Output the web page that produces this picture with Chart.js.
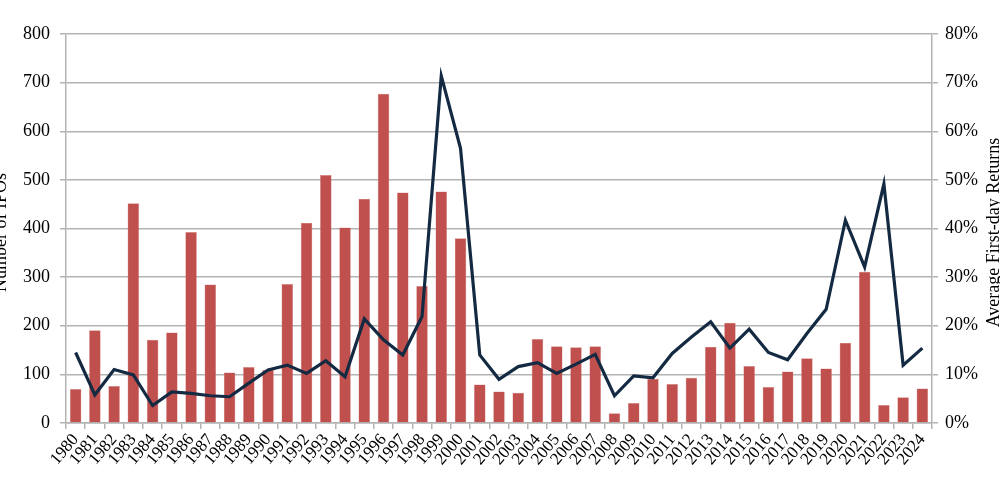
<!DOCTYPE html>
<html>
<head>
<meta charset="utf-8">
<script src="https://cdn.jsdelivr.net/npm/chart.js@4"></script>
<style>
  html, body { margin: 0; padding: 0; background: #fff; }
  #box { width: 1000px; height: 484px; }
</style>
</head>
<body>
<div id="box"><canvas id="ipoChart"></canvas></div>
<script>
// ************** IPO count (bars) and average first-day return (line) *******************
const years = ["1980", "1981", "1982", "1983", "1984", "1985", "1986", "1987", "1988", "1989",
  "1990", "1991", "1992", "1993", "1994", "1995", "1996", "1997", "1998", "1999",
  "2000", "2001", "2002", "2003", "2004", "2005", "2006", "2007", "2008", "2009",
  "2010", "2011", "2012", "2013", "2014", "2015", "2016", "2017", "2018", "2019",
  "2020", "2021", "2022", "2023", "2024"];

const ipoCounts = [70, 191, 76, 452, 171, 186, 393, 285, 104, 115,
  109, 286, 412, 510, 402, 461, 677, 474, 282, 476,
  380, 79, 65, 62, 173, 158, 156, 158, 20, 41,
  91, 80, 93, 157, 206, 117, 74, 106, 133, 112,
  165, 311, 37, 53, 71];

const firstDayReturns = [14.5, 5.8, 11.0, 9.9, 3.6, 6.4, 6.1, 5.6, 5.4, 8.2,
  10.9, 11.9, 10.2, 12.8, 9.5, 21.4, 17.1, 14.0, 21.9, 71.4,
  56.5, 14.0, 9.0, 11.6, 12.4, 10.2, 12.1, 14.1, 5.6, 9.7,
  9.3, 14.3, 17.7, 20.8, 15.4, 19.3, 14.5, 13.0, 18.4, 23.4,
  41.7, 32.1, 49.2, 11.9, 15.4];

const leftTicks = [0, 100, 200, 300, 400, 500, 600, 700, 800];
const rightTicks = [0, 10, 20, 30, 40, 50, 60, 70, 80];

const serif = "'Liberation Serif', 'Times New Roman', serif";
const gridGray = "#b3b3b3";

// axis titles sit partly off the canvas in the original, so draw them by hand
const axisTitles = {
    id: "axisTitles",
    afterDraw(chart) {
        const c = chart.ctx;
        const mid = (chart.chartArea.top + chart.chartArea.bottom) / 2 + 4;
        c.save();
        c.fillStyle = "#000";
        c.font = "18px " + serif;
        c.textAlign = "center";
        c.textBaseline = "alphabetic";
        c.translate(6, mid);
        c.rotate(-Math.PI / 2);
        c.fillText("Number of IPOs", 0, 0);
        c.restore();
        c.save();
        c.fillStyle = "#000";
        c.font = "18px " + serif;
        c.textAlign = "center";
        c.textBaseline = "alphabetic";
        c.translate(999, mid);
        c.rotate(-Math.PI / 2);
        c.fillText("Average First-day Returns", 0, 0);
        c.restore();
    }
};

new Chart("ipoChart", {
    type: "bar",
    data: {
        labels: years,
        datasets: [{
            type: "line",
            label: "Average First-day Returns",
            data: firstDayReturns,
            yAxisID: "yRight",
            borderColor: "#142a42",
            backgroundColor: "#142a42",
            borderWidth: 3.2,
            pointRadius: 0,
            tension: 0,
            fill: false,
            order: 0
        }, {
            label: "Number of IPOs",
            data: ipoCounts,
            yAxisID: "yLeft",
            backgroundColor: "#c0504d",
            borderColor: "#d98c8a",
            borderWidth: 0.5,
            categoryPercentage: 1,
            barPercentage: 0.6,
            order: 1
        }]
    },
    options: {
        responsive: true,
        maintainAspectRatio: false,
        animation: false,
        layout: { padding: { top: 34, left: 0, right: 0, bottom: 0 } },
        plugins: {
            legend: { display: false },
            tooltip: { enabled: false }
        },
        scales: {
            x: {
                grid: { drawOnChartArea: false, drawTicks: true, tickLength: 6, color: gridGray, lineWidth: 1.5 },
                border: { color: gridGray, width: 1.5 },
                ticks: {
                    autoSkip: false,
                    maxRotation: 50,
                    minRotation: 50,
                    padding: 1,
                    color: "#000",
                    font: { family: serif, size: 17 }
                },
                afterFit(scale) { scale.height = 61; }
            },
            yLeft: {
                position: "left",
                min: leftTicks[0],
                max: leftTicks[leftTicks.length - 1],
                afterBuildTicks(scale) { scale.ticks = leftTicks.map(v => ({ value: v })); },
                grid: { color: gridGray, lineWidth: 1.5, tickLength: 6 },
                border: { color: gridGray, width: 1.5 },
                ticks: {
                    padding: 10,
                    color: "#000",
                    font: { family: serif, size: 18 }
                },
                afterFit(scale) { scale.width = 66; }
            },
            yRight: {
                position: "right",
                min: rightTicks[0],
                max: rightTicks[rightTicks.length - 1],
                afterBuildTicks(scale) { scale.ticks = rightTicks.map(v => ({ value: v })); },
                grid: { drawOnChartArea: false, color: gridGray, lineWidth: 1.5, tickLength: 6 },
                border: { color: gridGray, width: 1.5 },
                ticks: {
                    padding: 7,
                    color: "#000",
                    font: { family: serif, size: 18 },
                    callback: v => v + "%"
                },
                afterFit(scale) { scale.width = 68; }
            }
        }
    },
    plugins: [axisTitles]
});
</script>
</body>
</html>
